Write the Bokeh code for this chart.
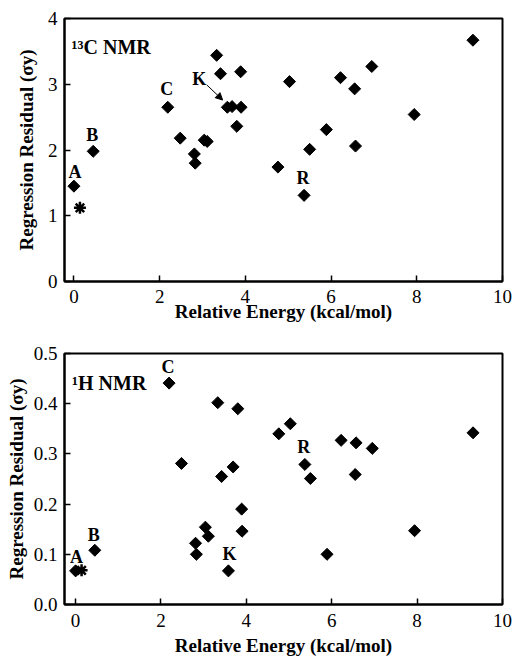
from bokeh.plotting import figure
from bokeh.layouts import column
from bokeh.models import Range1d, FixedTicker, Arrow, NormalHead, ColumnDataSource, Label, PrintfTickFormatter
from bokeh.core.properties import value
from bokeh.embed import file_html
from bokeh.resources import INLINE

# Relative energies (kcal/mol) of the conformers
energy = [0.00, 0.45, 2.19, 2.48, 2.81, 2.83, 3.04, 3.11, 3.33, 3.42, 3.58, 3.69, 3.80,
          3.89, 3.90, 4.76, 5.03, 5.37, 5.50, 5.89, 6.22, 6.55, 6.57, 6.95, 7.94, 9.31]
# 13C NMR regression residuals
c13_resid = [1.45, 1.98, 2.65, 2.18, 1.94, 1.80, 2.15, 2.13, 3.44, 3.16, 2.65, 2.66, 2.36,
             3.19, 2.65, 1.74, 3.04, 1.31, 2.01, 2.31, 3.10, 2.93, 2.06, 3.27, 2.54, 3.67]
# 1H NMR regression residuals
h1_resid = [0.067, 0.108, 0.441, 0.281, 0.122, 0.100, 0.154, 0.136, 0.402, 0.255, 0.067, 0.274, 0.390,
            0.190, 0.146, 0.340, 0.360, 0.279, 0.251, 0.100, 0.327, 0.259, 0.322, 0.311, 0.147, 0.342]
# Experimental structure (asterisk)
star_energy = [0.14]
star_c13 = [1.12]
star_h1 = [0.068]
# Labelled conformers
point_labels = ["A", "B", "C", "K", "R"]
label_index = [0, 1, 2, 10, 17]

x_ticks = [0, 2, 4, 6, 8, 10]
c13_ticks = [0, 1, 2, 3, 4]
h1_ticks = [0.0, 0.1, 0.2, 0.3, 0.4, 0.5]

SERIF = "Liberation Serif"


def make_panel(resid, star_y, yticks, yfmt, title, xlo, height, borders, offsets, k_arrow, title_pos,
               ylab_standoff, xtick_standoff, xlab_standoff):
    p = figure(width=518, height=height, output_backend="svg", toolbar_location=None,
               x_range=Range1d(xlo, 10), y_range=Range1d(yticks[0], yticks[-1]))
    p.min_border_left, p.min_border_right, p.min_border_top, p.min_border_bottom = borders
    p.xgrid.visible = False
    p.ygrid.visible = False
    p.outline_line_color = "black"
    p.outline_line_width = 2
    p.outline_line_alpha = 1
    p.background_fill_color = "white"
    p.border_fill_color = "white"
    for ax in (p.xaxis[0], p.yaxis[0]):
        ax.axis_line_width = 2
        ax.axis_line_color = "black"
        ax.major_tick_in = 6
        ax.major_tick_out = 0
        ax.major_tick_line_width = 1.5
        ax.minor_tick_line_color = None
        ax.major_label_text_font = SERIF
        ax.major_label_text_font_size = "19px"
        ax.major_label_text_color = "black"
        ax.axis_label_text_font = SERIF
        ax.axis_label_text_font_size = "19px"
        ax.axis_label_text_font_style = "bold"
        ax.axis_label_text_color = "black"
    p.xaxis.ticker = FixedTicker(ticks=x_ticks)
    p.yaxis.ticker = FixedTicker(ticks=yticks)
    p.yaxis.formatter = PrintfTickFormatter(format=yfmt)
    p.xaxis.major_label_standoff = xtick_standoff
    p.yaxis.major_label_standoff = 7
    p.xaxis.axis_label = "Relative Energy (kcal/mol)"
    p.yaxis.axis_label = "Regression Residual (σy)"
    p.xaxis.axis_label_standoff = xlab_standoff
    p.yaxis.axis_label_standoff = ylab_standoff

    p.scatter(energy, resid, marker="square", angle=0.785398, size=8.5,
              fill_color="black", line_color="black")
    p.scatter(star_energy, star_y, marker="asterisk", size=12, line_color="black", line_width=2.5)

    src = ColumnDataSource(dict(
        x=[energy[i] for i in label_index],
        y=[resid[i] for i in label_index],
        t=point_labels,
        dx=[o[0] for o in offsets],
        dy=[o[1] for o in offsets],
    ))
    p.text(x="x", y="y", text="t", x_offset="dx", y_offset="dy", source=src,
           text_font=value(SERIF), text_font_size="18px", text_font_style="bold",
           text_align="center", text_baseline="middle", text_color="black")

    if k_arrow is not None:
        kx = energy[10]
        ky = resid[10]
        p.add_layout(Arrow(end=NormalHead(size=7, fill_color="black", line_color="black"),
                           x_start=kx + k_arrow[0], y_start=ky + k_arrow[1],
                           x_end=kx + k_arrow[2], y_end=ky + k_arrow[3],
                           line_width=1, line_color="black"))

    p.add_layout(Label(x=title_pos[0], y=title_pos[1], text=title, text_font=SERIF,
                       text_font_size="20px", text_font_style="bold",
                       text_baseline="middle", text_align="left", text_color="black"))
    return p


p1 = make_panel(c13_resid, star_c13, c13_ticks, "%d", "¹³C NMR", -0.22, 328, (61, 16, 18, 47),
                [(1, -14), (-1, -16), (-1, -18), (-28, -28), (-1, -17)],
                (-0.48, 0.34, -0.11, 0.11), (-0.055, 3.57), 8, 8, -5)
p2 = make_panel(h1_resid, star_h1, h1_ticks, "%.1f", "¹H NMR", -0.26, 330, (64, 11, 25, 52),
                [(1, -14), (-1, -15), (-1, -16), (1, -17), (-1, -17)],
                None, (-0.083, 0.442), 4, 9, 5)

layout = column(p1, p2, spacing=0)
open("out.html", "w").write(file_html(layout, INLINE))
